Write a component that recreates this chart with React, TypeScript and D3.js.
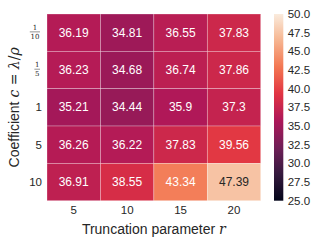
import React from "react";
import * as d3 from "d3";

const colLabels = ["5", "10", "15", "20"];
const rowLabels = ["1/10", "1/5", "1", "5", "10"];
const values = [
  [36.19, 34.81, 36.55, 37.83],
  [36.23, 34.68, 36.74, 37.86],
  [35.21, 34.44, 35.9, 37.3],
  [36.26, 36.22, 37.83, 39.56],
  [36.91, 38.55, 43.34, 47.39],
];
const cbarTicks = [25, 27.5, 30, 32.5, 35, 37.5, 40, 42.5, 45, 47.5, 50];
const rocketStops = ["#03051a", "#35193e", "#701f57", "#ad1759", "#e13342", "#f37651", "#f6b48f", "#faebdd"];

const W = 320, H = 246;
const M = { left: 47, right: 260.7, top: 14, bottom: 200.7 };
const FONT = "'Liberation Sans', Arial, sans-serif";
const TXT = "#262626";

export default function App() {
  const interp = d3.piecewise(d3.interpolateRgb, rocketStops);
  const color = d3.scaleSequential(interp).domain([25, 50]);
  const x = d3.scaleBand().domain(colLabels).range([M.left, M.right]);
  const y = d3.scaleBand().domain(rowLabels).range([M.top, M.bottom]);
  const cb = d3.scaleLinear().domain([25, 50]).range([M.bottom, M.top]);
  const cbX = 274, cbW = 9.3;
  const gradStops = d3.range(0, 1.0001, 0.02);

  const lum = (c: string) => {
    const rgb = d3.rgb(c);
    const f = (v: number) => {
      v /= 255;
      return v <= 0.03928 ? v / 12.92 : Math.pow((v + 0.055) / 1.055, 2.4);
    };
    return 0.2126 * f(rgb.r) + 0.7152 * f(rgb.g) + 0.0722 * f(rgb.b);
  };

  return (
    <svg width={W} height={H} style={{ position: "absolute", left: 0, top: 0, background: "#fff" }}>
      <defs>
        <linearGradient id="cbg" x1="0" y1="1" x2="0" y2="0">
          {gradStops.map((t) => (
            <stop key={t} offset={t} stopColor={interp(t)} />
          ))}
        </linearGradient>
      </defs>
      {values.map((row, i) =>
        row.map((v, j) => {
          const c = color(v);
          return (
            <g key={`${i}-${j}`}>
              <rect x={x(colLabels[j])} y={y(rowLabels[i])} width={x.bandwidth()} height={y.bandwidth()}
                fill={c} stroke="#fff" strokeOpacity={0.45} strokeWidth={0.6} />
              <text x={x(colLabels[j])! + x.bandwidth() / 2} y={y(rowLabels[i])! + y.bandwidth() / 2}
                textAnchor="middle" dominantBaseline="central" fontFamily={FONT} fontSize={12}
                fill={lum(c) > 0.408 ? TXT : "#fff"}>{String(v)}</text>
            </g>
          );
        })
      )}
      {colLabels.map((c) => (
        <text key={c} x={x(c)! + x.bandwidth() / 2} y={214} textAnchor="middle" fontFamily={FONT}
          fontSize={11.5} fill={TXT}>{c}</text>
      ))}
      {rowLabels.map((r) => {
        const cy = y(r)! + y.bandwidth() / 2;
        if (r.includes("/")) {
          const [n, d] = r.split("/");
          const w = d.length * 4.6 + 1;
          const cx = 40 - w / 2;
          return (
            <g key={r} fontFamily="'DejaVu Serif', serif" fontSize={7} fill={TXT}>
              <text x={cx} y={cy - 2.8} textAnchor="middle">{n}</text>
              <line x1={cx - w / 2} x2={cx + w / 2} y1={cy - 0.8} y2={cy - 0.8} stroke={TXT} strokeWidth={0.5} />
              <text x={cx} y={cy + 6.3} textAnchor="middle">{d}</text>
            </g>
          );
        }
        return (
          <text key={r} x={42} y={cy} textAnchor="end" dominantBaseline="central" fontFamily={FONT}
            fontSize={11.5} fill={TXT}>{r}</text>
        );
      })}
      <text x={(M.left + M.right) / 2} y={234} textAnchor="middle" fontFamily={FONT} fontSize={14} fill={TXT}>
        Truncation parameter{" "}
        <tspan fontFamily="'DejaVu Serif', serif" fontStyle="italic">r</tspan>
      </text>
      <text transform={`translate(19, ${(M.top + M.bottom) / 2}) rotate(-90)`} textAnchor="middle"
        fontFamily={FONT} fontSize={14} fill={TXT}>
        Coefficient{" "}
        <tspan fontFamily="'DejaVu Serif', serif" fontStyle="italic">c</tspan>
        <tspan fontFamily="'DejaVu Serif', serif"> = </tspan>
        <tspan fontFamily="'DejaVu Serif', serif" fontStyle="italic">λ</tspan>
        <tspan fontFamily="'DejaVu Serif', serif">/</tspan>
        <tspan fontFamily="'DejaVu Serif', serif" fontStyle="italic">ρ</tspan>
      </text>
      <rect x={cbX} y={M.top} width={cbW} height={M.bottom - M.top} fill="url(#cbg)" />
      {cbarTicks.map((t) => (
        <text key={t} x={287.7} y={cb(t)} dominantBaseline="central" fontFamily={FONT} fontSize={11.5}
          fill={TXT}>{t.toFixed(1)}</text>
      ))}
    </svg>
  );
}
